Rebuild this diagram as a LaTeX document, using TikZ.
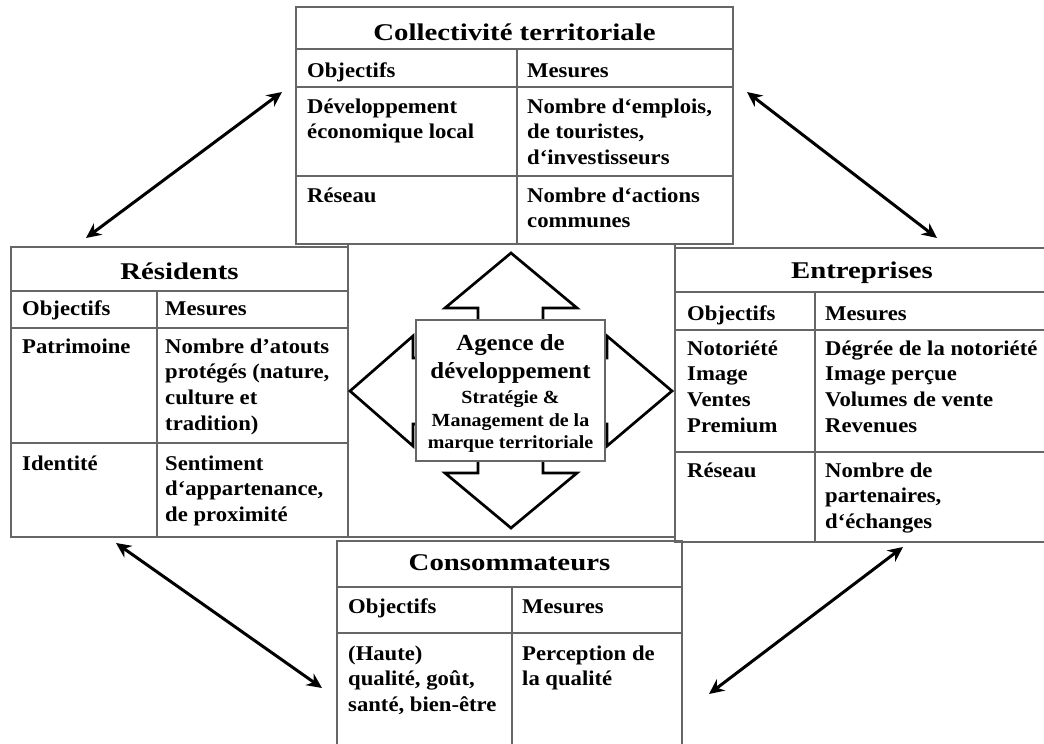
\documentclass[tikz,border=0pt]{standalone}
\usepackage{fontspec}
\setmainfont{Liberation Serif}
\newfontfamily\titlefam{Liberation Serif}[FakeStretch=1.2]
\newfontfamily\cellfam{Liberation Serif}[FakeStretch=1.08]
\usetikzlibrary{arrows.meta}

\newcommand{\titlefont}{\titlefam\bfseries\fontsize{24}{28}\selectfont}
\newcommand{\cellfont}{\cellfam\bfseries\fontsize{21}{25.7}\selectfont}
\newcommand{\agbigfont}{\cellfam\bfseries\fontsize{23}{28}\selectfont}
\newcommand{\agsmallfont}{\cellfam\bfseries\fontsize{18.5}{22}\selectfont}

\begin{document}
\begin{tikzpicture}
  [x=1pt,y=-1pt,
   grid/.style={draw=black!60,line width=1.1pt},
   tabtitle/.style={font=\titlefont,anchor=base,inner sep=0pt},
   tabhead/.style={font=\cellfont,anchor=base west,inner sep=0pt},
   tabcell/.style={font=\cellfont,anchor=north west,align=left,inner sep=0pt},
   agline/.style={anchor=base,inner sep=0pt},
   blockarrow/.style={draw=black,line width=2.7pt,line join=miter},
   biarrow/.style={line width=3pt,{Stealth[length=15pt,width=14pt]}-{Stealth[length=15pt,width=14pt]}}] % all sizes in px of the 1044x744 sheet

  \useasboundingbox (0,0) rectangle (1044,744);

  % Collectivite territoriale (top)
  \draw[grid] (296,7) rectangle (733,244);
  \draw[grid] (296,49) -- (733,49) (296,87) -- (733,87) (296,176) -- (733,176) (517,49) -- (517,244);
  \node[tabtitle] (ct) at (514.5,40) {Collectivité territoriale};
  \node[tabhead] (ctobj) at (307,77) {Objectifs};
  \node[tabhead] (ctmes) at (527,77) {Mesures};
  \node[tabcell] (ct1) at (307,98.5) {Développement\\économique local};
  \node[tabcell] (ct2) at (527,98.5) {Nombre d‘emplois,\\de touristes,\\d‘investisseurs};
  \node[tabcell] (ct3) at (307,187.5) {Réseau};
  \node[tabcell] (ct4) at (527,187.5) {Nombre d‘actions\\communes};

  % Residents (left)
  \draw[grid] (11,247) rectangle (348,537);
  \draw[grid] (11,291) -- (348,291) (11,328) -- (348,328) (11,443) -- (348,443) (157,291) -- (157,537);
  \node[tabtitle] (re) at (179.5,279) {Résidents};
  \node[tabhead] (reobj) at (22,315) {Objectifs};
  \node[tabhead] (remes) at (165,315) {Mesures};
  \node[tabcell] (re1) at (22,338.5) {Patrimoine};
  \node[tabcell] (re2) at (165,338.5) {Nombre d’atouts\\protégés (nature,\\culture et\\tradition)};
  \node[tabcell] (re3) at (22,455.5) {Identité};
  \node[tabcell] (re4) at (165,455.5) {Sentiment\\d‘appartenance,\\de proximité};

  % Entreprises (right, runs off the sheet)
  \draw[grid] (675,248) rectangle (1050,542);
  \draw[grid] (675,292) -- (1050,292) (675,330) -- (1050,330) (675,452) -- (1050,452) (815,292) -- (815,542);
  \node[tabtitle] (en) at (862,278) {Entreprises};
  \node[tabhead] (enobj) at (687,320) {Objectifs};
  \node[tabhead] (enmes) at (825,320) {Mesures};
  \node[tabcell] (en1) at (687,340.5) {Notoriété\\Image\\Ventes\\Premium};
  \node[tabcell] (en2) at (825,340.5) {Dégrée de la notoriété\\Image perçue\\Volumes de vente\\Revenues};
  \node[tabcell] (en3) at (687,462.5) {Réseau};
  \node[tabcell] (en4) at (825,462.5) {Nombre de\\partenaires,\\d‘échanges};

  % Consommateurs (bottom, runs off the sheet)
  \draw[grid] (337,541) rectangle (682,760);
  \draw[grid] (337,587) -- (682,587) (337,633) -- (682,633) (512,587) -- (512,760);
  \node[tabtitle] (co) at (509.5,570) {Consommateurs};
  \node[tabhead] (coobj) at (348,613) {Objectifs};
  \node[tabhead] (comes) at (522,613) {Mesures};
  \node[tabcell] (co1) at (348,645.5) {(Haute)\\qualité, goût,\\santé, bien-être};
  \node[tabcell] (co2) at (522,645.5) {Perception de\\la qualité};

  % centre panel with the four block arrows
  \draw[grid] (348,244) rectangle (675,537);
  \draw[blockarrow] (478,320) -- (478,308) -- (445,308) -- (511,253) -- (577,308) -- (543,308) -- (543,320);
  \draw[blockarrow] (478,461) -- (478,473) -- (445,473) -- (511,528) -- (577,473) -- (543,473) -- (543,461);
  \draw[blockarrow] (416,358) -- (413,358) -- (413,336) -- (350,391) -- (413,446) -- (413,424) -- (416,424);
  \draw[blockarrow] (605,358) -- (607,358) -- (607,336) -- (672,391) -- (607,446) -- (607,424) -- (605,424);

  \node[grid,fill=white,minimum width=189,minimum height=141,inner sep=0pt] (agence) at (510.5,390.5) {};
  \node[agline,font=\agbigfont] (ag1) at (510.5,350) {Agence de};
  \node[agline,font=\agbigfont] (ag2) at (510.5,378) {développement};
  \node[agline,font=\agsmallfont] (ag3) at (510.5,403) {Stratégie \&};
  \node[agline,font=\agsmallfont] (ag4) at (510.5,426) {Management de la};
  \node[agline,font=\agsmallfont] (ag5) at (510.5,448) {marque territoriale};

  % double arrows between the partners
  \coordinate (ctW) at (282,92);
  \coordinate (reN) at (86,238);
  \coordinate (ctE) at (747,92);
  \coordinate (enN) at (937,238);
  \coordinate (reS) at (116,543);
  \coordinate (coW) at (322,688);
  \coordinate (enS) at (903,547);
  \coordinate (coE) at (709,694);

  \draw[biarrow] (ctW) -- (reN);
  \draw[biarrow] (ctE) -- (enN);
  \draw[biarrow] (reS) -- (coW);
  \draw[biarrow] (enS) -- (coE);

\end{tikzpicture}
\end{document}
